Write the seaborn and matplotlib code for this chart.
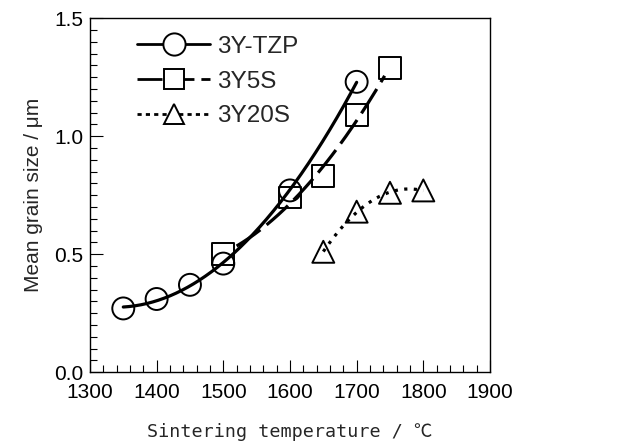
import numpy as np
import matplotlib
matplotlib.use("Agg")
import matplotlib.pyplot as plt
from matplotlib.ticker import MultipleLocator, FormatStrFormatter
from matplotlib.lines import Line2D
import seaborn as sns

tzp_T = [1350, 1400, 1450, 1500, 1600, 1700]
tzp_d = [0.27, 0.31, 0.37, 0.46, 0.77, 1.23]
s5_T = [1500, 1600, 1650, 1700, 1750]
s5_d = [0.50, 0.74, 0.83, 1.09, 1.29]
s20_T = [1650, 1700, 1750, 1800]
s20_d = [0.51, 0.68, 0.76, 0.77]
labels = ["3Y-TZP", "3Y5S", "3Y20S"]

sns.set_theme(style="ticks")
plt.rcParams['font.family'] = ['Liberation Sans', 'DejaVu Sans']

fig = plt.figure(figsize=(6.29, 4.42), dpi=100)
ax = fig.add_axes([0.143, 0.158, 0.636, 0.801])

def fit(T, d, lo, hi, deg=2):
    c = np.polyfit(T, d, deg)
    x = np.linspace(lo, hi, 200)
    return x, np.polyval(c, x)

x1, y1 = fit(tzp_T, tzp_d, 1350, 1700)
x2, y2 = fit(s5_T, s5_d, 1520, 1742)
x3, y3 = fit(s20_T, s20_d, 1650, 1800)

DASH = (0, (9, 2.5))
DOT = (0, (1, 2))
sns.lineplot(x=x1, y=y1, ax=ax, color="black", lw=2.3, linestyle="-")
sns.lineplot(x=x2, y=y2, ax=ax, color="black", lw=2.3, linestyle=DASH)
sns.lineplot(x=x3, y=y3, ax=ax, color="black", lw=2.3, linestyle=DOT)

mk = dict(s=250, facecolor="none", edgecolor="black", linewidth=1.4, zorder=3)
sns.scatterplot(x=tzp_T, y=tzp_d, ax=ax, marker="o", **mk)
sns.scatterplot(x=s5_T, y=s5_d, ax=ax, marker="s", **mk)
sns.scatterplot(x=s20_T, y=s20_d, ax=ax, marker="^", **mk)

ax.set_xlim(1300, 1900)
ax.set_ylim(0, 1.5)
ax.xaxis.set_major_locator(MultipleLocator(100))
ax.xaxis.set_minor_locator(MultipleLocator(20))
ax.yaxis.set_major_locator(MultipleLocator(0.5))
ax.yaxis.set_minor_locator(MultipleLocator(0.05))
ax.yaxis.set_major_formatter(FormatStrFormatter('%.1f'))
ax.tick_params(which="both", direction="in", colors="black", labelsize=15)
ax.tick_params(which="major", length=9, width=0.8)
ax.tick_params(which="minor", length=5, width=0.8)
ax.tick_params(axis="x", pad=8)
ax.tick_params(axis="y", pad=5)
for s in ax.spines.values():
    s.set_linewidth(1.0)
    s.set_color("black")

ax.set_ylabel("Mean grain size / μm", fontsize=15, labelpad=8)
ax.set_xlabel("Sintering temperature / ℃", fontsize=13.2, labelpad=15,
              family=['DejaVu Sans Mono', 'Noto Sans CJK JP', 'DejaVu Sans'])

handles = [
    Line2D([], [], color="black", lw=2.0, marker="o", markersize=16, mfc="white", mec="black", mew=1.4),
    Line2D([], [], color="black", lw=2.0, linestyle=DASH, marker="s", markersize=15, mfc="white", mec="black", mew=1.4),
    Line2D([], [], color="black", lw=2.0, linestyle=(0, (1.5, 1.5)), marker="^", markersize=15, mfc="white", mec="black", mew=1.4),
]
ax.legend(handles, labels, loc="upper left", frameon=False, fontsize=17.5,
          handlelength=3.0, handletextpad=0.3, labelspacing=0.52,
          borderpad=0.4, borderaxespad=0.0, bbox_to_anchor=(0.094, 0.977))

fig.savefig("out.png", dpi=100)
